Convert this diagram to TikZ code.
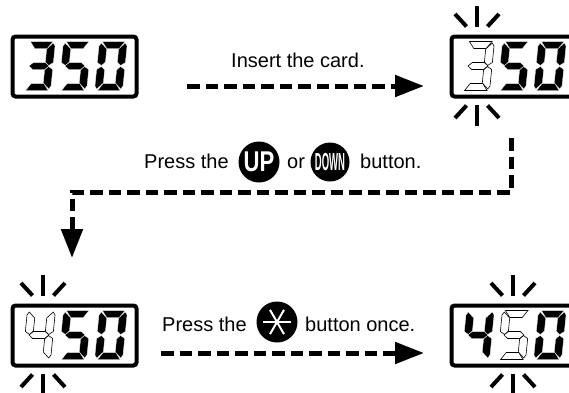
\documentclass[tikz,border=0pt]{standalone}
\usepackage{fontspec}
\setmainfont{Liberation Sans}
\usepackage{graphicx}
\usetikzlibrary{arrows.meta}

% segments of one digit, around its centre
\def\sega{(-11,-24.5) -- (11.5,-24.5) -- (6.5,-17.5) -- (-6,-17.5) -- cycle}
\def\segd{(-11,24.5) -- (11.5,24.5) -- (6.5,17.5) -- (-6,17.5) -- cycle}
\def\segf{(-12,-23) -- (-6,-17) -- (-6,-4) -- (-9.5,-0.5) -- (-14,-3.5) -- (-14,-20) -- cycle}
\def\segb{(12,-23) -- (6,-17) -- (6,-4) -- (9.5,-0.5) -- (14,-3.5) -- (14,-20) -- cycle}
\def\sege{(-12,23) -- (-6,17) -- (-6,4) -- (-9.5,0.5) -- (-14,3.5) -- (-14,20) -- cycle}
\def\segc{(12,23) -- (6,17) -- (6,4) -- (9.5,0.5) -- (14,3.5) -- (14,20) -- cycle}
\def\segg{(-10,0) -- (-6,-3.5) -- (6,-3.5) -- (10,0) -- (6,3.5) -- (-6,3.5) -- cycle}

\def\digthree{a,b,g,c,d}
\def\digfour{f,g,b,c}
\def\digfive{a,f,g,c,d}
\def\digzero{a,b,c,d,e,f}

% #1 position, #2 digit, #3 style
\newcommand{\segdigit}[3]{
\begin{scope}[shift={(#1)},xslant=0.1]
\foreach \s in #2 {
\expandafter\let\expandafter\segpath\csname seg\s\endcsname
\path[#3] \segpath;
}
\end{scope}
}

% #1 centre of the frame, #2 x of the rays
\newcommand{\sparkle}[2]{
\begin{scope}[shift={(#2,#1)}]
\draw[ray] (0,-60) -- (0,-39);
\draw[ray] (-22,-52) -- (-10.5,-39.5);
\draw[ray] (22,-52) -- (10.5,-39.5);
\draw[ray] (0,60) -- (0,39);
\draw[ray] (-22,52) -- (-10.5,39.5);
\draw[ray] (22,52) -- (10.5,39.5);
\end{scope}
}

\tikzset{
frame/.style={draw,line width=4pt,rounded corners=3pt,minimum width=124pt,minimum height=60pt,inner sep=0pt},
lit/.style={fill=black,draw=white,line width=0.25pt},
dim/.style={fill=white,draw=black,line width=0.6pt},
ray/.style={line width=4pt},
dashline/.style={line width=5pt,dash pattern=on 12.5pt off 6pt},
label/.style={anchor=base west,inner sep=0pt,font=\fontsize{20}{24}\selectfont},
button/.style={circle,fill=black,text=white,inner sep=0pt,minimum size=#1},
arrowtip/.style={-{Triangle[length=29pt,width=21pt]}}
}

\begin{document}
\begin{tikzpicture}[x=1pt,y=-1pt]
\useasboundingbox (0,0) rectangle (569,392);
\clip (0,0) rectangle (569,392);

\node[frame] (d1) at (74.5,66.5) {};
\node[frame] (d2) at (513.5,66.5) {};
\node[frame] (d3) at (74.5,335.5) {};
\node[frame] (d4) at (513.5,335.5) {};

\segdigit{39,66}{\digthree}{lit}
\segdigit{75,66}{\digfive}{lit}
\segdigit{111,66}{\digzero}{lit}

\segdigit{478,66}{\digthree}{dim}
\segdigit{514,66}{\digfive}{lit}
\segdigit{550,66}{\digzero}{lit}

\segdigit{39,335}{\digfour}{dim}
\segdigit{75,335}{\digfive}{lit}
\segdigit{111,335}{\digzero}{lit}

\segdigit{478,335}{\digfour}{lit}
\segdigit{514,335}{\digfive}{dim}
\segdigit{550,335}{\digzero}{lit}

\sparkle{66}{477}
\sparkle{335}{43}
\sparkle{335}{513}

\node[label] (insert) at (231,67) {Insert the card.};
\node[label] (press1) at (144,168) {Press the};
\node[button=41pt] (up) at (259,162) {\fontsize{26}{26}\selectfont\bfseries\scalebox{0.85}[1.1]{UP}};
\node[label] (or) at (287,168) {or};
\node[button=39pt] (down) at (330,162) {\fontsize{17}{17}\selectfont\bfseries\scalebox{0.56}[1.45]{DOWN}};
\node[label] (press2) at (360,168) {button.};
\node[label] (press3) at (162,331) {Press the};
\node[button=41pt] (star) at (277,322) {};
\node[label] (once) at (305,331) {button once.};
\foreach \a in {0,60,120} {
\draw[white,line width=2pt] ([shift={(\a:14pt)}]star.center) -- ([shift={(\a+180:14pt)}]star.center);
}

\coordinate (a1) at (187,86);
\coordinate (b1) at (424,86);
\coordinate (a2) at (511,138);
\coordinate (c2) at (511,192);
\coordinate (c3) at (72,192);
\coordinate (b2) at (72,258);
\coordinate (a3) at (161,353);
\coordinate (b3) at (424,353);

\draw[dashline,arrowtip] (a1) -- (b1);
\draw[dashline,arrowtip] (a2) -- (c2) -- (c3) -- (b2);
\draw[dashline,arrowtip] (a3) -- (b3);
\end{tikzpicture}
\end{document}
